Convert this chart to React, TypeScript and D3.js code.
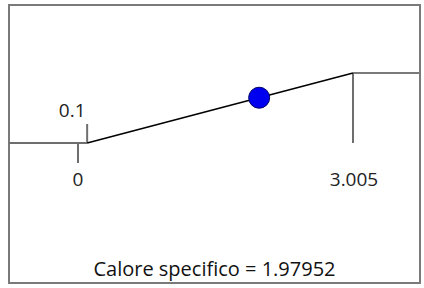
import React, { useEffect, useRef } from "react"
import * as d3 from "d3"

// curve: flat, ramp, flat
const curveX = [-0.754, 0.1, 3.005, 3.74]
const curveY = [0, 0, 1, 1]

// break marks along the curve
const marks = [
    { x: 0, label: "0", side: "down" },
    { x: 0.1, label: "0.1", side: "up" },
    { x: 3.005, label: "3.005", side: "down" },
]

const currentX = 1.97952
const title = "Calore specifico = 1.97952"

const W = 424
const H = 288
const FONT = "'Open Sans', 'Noto Sans', sans-serif"

export default function App() {
    const ref = useRef<SVGSVGElement | null>(null)

    useEffect(() => {
        if (!ref.current) return
        const svg = d3.select(ref.current)
        svg.selectAll("*").remove()

        const box = { left: 9, top: 5, right: 420, bottom: 283 }

        const x = d3.scaleLinear().domain([0, 3.005]).range([78, 353])
        const y = d3.scaleLinear().domain([0, 1]).range([143, 73])
        const curve = d3.scaleLinear().domain(curveX).range(curveY)

        svg.append("rect")
            .attr("x", box.left)
            .attr("y", box.top)
            .attr("width", box.right - box.left)
            .attr("height", box.bottom - box.top)
            .attr("fill", "#fff")
            .attr("stroke", "#7a7a7a")
            .attr("stroke-width", 2)

        const line = d3
            .line<number>()
            .x((d) => x(d))
            .y((d) => y(curve(d)))

        // flat parts in gray
        svg.append("path")
            .attr("d", line([curveX[0], curveX[1]]))
            .attr("stroke", "#6e6e6e")
            .attr("stroke-width", 2)
            .attr("fill", "none")
        svg.append("path")
            .attr("d", line([curveX[2], curveX[3]]))
            .attr("stroke", "#7a7a7a")
            .attr("stroke-width", 2)
            .attr("fill", "none")

        // marks
        const g = svg.append("g")
        marks.forEach((m) => {
            const y0 = y(curve(m.x))
            const down = m.side === "down"
            const len = m.x === 3.005 ? 0 : 20
            const y1 = down ? (len ? y0 + len : y(0)) : y0 - 19
            g.append("line")
                .attr("x1", x(m.x))
                .attr("x2", x(m.x))
                .attr("y1", y0)
                .attr("y2", y1)
                .attr("stroke", "#6e6e6e")
                .attr("stroke-width", 2)
            g.append("text")
                .attr("x", x(m.x) + (m.x === 0.1 ? -15 : m.x === 3.005 ? 1 : 0))
                .attr("y", down ? y(0) + 43 : y1 - 7)
                .attr("text-anchor", "middle")
                .attr("font-family", FONT)
                .attr("font-size", 19)
                .attr("fill", "#222")
                .text(m.label)
        })

        // ramp in black
        svg.append("path")
            .attr("d", line([curveX[1], curveX[2]]))
            .attr("stroke", "#000")
            .attr("stroke-width", 1.6)
            .attr("fill", "none")

        svg.append("circle")
            .attr("cx", x(currentX))
            .attr("cy", y(curve(currentX)))
            .attr("r", 10.5)
            .attr("fill", "#0000f0")
            .attr("stroke", "#000066")
            .attr("stroke-width", 1)

        svg.append("text")
            .attr("x", (box.left + box.right) / 2)
            .attr("y", 276)
            .attr("text-anchor", "middle")
            .attr("font-family", FONT)
            .attr("font-size", 20)
            .attr("fill", "#111")
            .text(title)
    }, [])

    return (
        <svg
            ref={ref}
            width={W}
            height={H}
            style={{ position: "absolute", left: 0, top: 0 }}
        />
    )
}
